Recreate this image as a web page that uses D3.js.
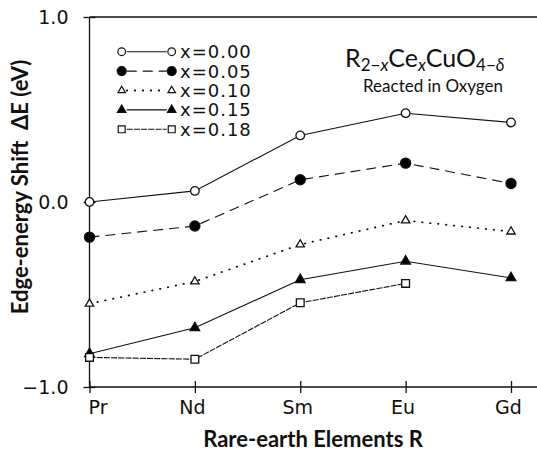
<!DOCTYPE html>
<html>
<head>
<meta charset="utf-8">
<script src="https://cdn.jsdelivr.net/npm/d3@7"></script>
<style>
  html, body { margin: 0; padding: 0; background: #fff; }
  svg { display: block; }
</style>
</head>
<body>
<svg id="chart" width="537" height="451"></svg>
<script>
// Rare-earth elements along the x axis
const elements = ["Pr", "Nd", "Sm", "Eu", "Gd"];
// Ce content of each series
const dopings = ["0.00", "0.05", "0.10", "0.15", "0.18"];
// Edge-energy shift (eV) for each Ce content, ordered as `elements`
const shift000 = [0.00, 0.06, 0.36, 0.48, 0.43];
const shift005 = [-0.19, -0.13, 0.12, 0.21, 0.10];
const shift010 = [-0.55, -0.43, -0.23, -0.10, -0.16];
const shift015 = [-0.82, -0.68, -0.42, -0.32, -0.41];
const shift018 = [-0.84, -0.85, -0.545, -0.44, null];
const yTicks = [-1.0, 0.0, 1.0];
const yTickLabels = ["\u22121.0", "0.0", "1.0"];

const seriesValues = [shift000, shift005, shift010, shift015, shift018];

// drawing style per series
const styles = [
  { symbol: d3.symbolCircle,   size: 58, fill: "#fff", dash: null,      dotted: false },
  { symbol: d3.symbolCircle,   size: 80, fill: "#000", dash: "10,6",    dotted: false },
  { symbol: d3.symbolTriangle, size: 30, fill: "#fff", dash: "0.5,7.5", dotted: true },
  { symbol: d3.symbolTriangle, size: 40, fill: "#000", dash: null,      dotted: false },
  { symbol: d3.symbolSquare,   size: 60, fill: "#fff", dash: "6,1.2",   dotted: false }
];

const svg = d3.select("#chart");
const W = 537;
const plotLeft = 89.5, plotTop = 17, plotBottom = 387;

const x = d3.scalePoint().domain(elements).range([plotLeft, 511]);
const y = d3.scaleLinear().domain([-1, 1]).range([plotBottom, plotTop]);

const ink = "#111";
const numFont = "'DejaVu Sans', sans-serif";
const titleFont = "Lato, 'DejaVu Sans', sans-serif";

// frame: left axis, top edge and bottom axis line
svg.append("line").attr("x1", plotLeft).attr("x2", plotLeft).attr("y1", plotTop).attr("y2", plotBottom)
  .attr("stroke", ink).attr("stroke-width", 1.3);
svg.append("line").attr("x1", plotLeft).attr("x2", W).attr("y1", plotTop).attr("y2", plotTop)
  .attr("stroke", ink).attr("stroke-width", 1.3);
svg.append("line").attr("x1", plotLeft).attr("x2", W).attr("y1", plotBottom).attr("y2", plotBottom)
  .attr("stroke", ink).attr("stroke-width", 1.3);

// y axis: crossing ticks and numeric labels
const yAxis = d3.axisLeft(y).tickValues(yTicks)
  .tickFormat((d, i) => yTickLabels[i]).tickSize(6).tickPadding(10);
const gy = svg.append("g").attr("transform", `translate(${plotLeft},0)`).call(yAxis);
gy.select(".domain").remove();
gy.selectAll(".tick line").attr("x1", -6).attr("x2", 6)
  .attr("stroke", ink).attr("stroke-width", 1.3);
gy.selectAll(".tick text").attr("font-family", numFont).attr("font-size", 19)
  .attr("fill", ink).attr("dx", -5);

// x axis: crossing ticks and element labels
const xAxis = d3.axisBottom(x).tickSize(6).tickPadding(8);
const gx = svg.append("g").attr("transform", `translate(0,${plotBottom})`).call(xAxis);
gx.select(".domain").remove();
gx.selectAll(".tick line").attr("y1", -6).attr("y2", 6)
  .attr("stroke", ink).attr("stroke-width", 1.3);
gx.selectAll(".tick text").attr("font-family", numFont).attr("font-size", 19)
  .attr("fill", ink).attr("dx", (d, i) => i === 0 ? 8 : -3);

// axis titles
svg.append("text")
  .attr("x", 313).attr("y", 447)
  .attr("text-anchor", "middle")
  .attr("font-family", titleFont).attr("font-weight", "bold").attr("font-size", 22)
  .attr("fill", ink)
  .text("Rare-earth Elements R");

svg.append("text")
  .attr("transform", "translate(28,187) rotate(-90)")
  .attr("text-anchor", "middle")
  .attr("font-family", titleFont).attr("font-weight", "bold").attr("font-size", 22)
  .attr("fill", ink)
  .attr("xml:space", "preserve")
  .text("Edge-energy Shift  \u0394E (eV)");

// series lines and markers
const line = d3.line()
  .defined(d => d.v !== null)
  .x(d => x(d.e)).y(d => y(d.v));

seriesValues.forEach((vals, k) => {
  const pts = elements.map((e, i) => ({ e, v: vals[i] }));
  const st = styles[k];
  svg.append("path")
    .datum(pts)
    .attr("d", line)
    .attr("fill", "none")
    .attr("stroke", ink)
    .attr("stroke-width", st.dotted ? 1.8 : 1.1)
    .attr("stroke-linecap", st.dotted ? "round" : "butt")
    .attr("stroke-dasharray", st.dash);
  svg.append("g").selectAll("path")
    .data(pts.filter(d => d.v !== null))
    .join("path")
    .attr("transform", d => `translate(${x(d.e)},${y(d.v)})`)
    .attr("d", d3.symbol().type(st.symbol).size(st.size))
    .attr("fill", st.fill)
    .attr("stroke", ink)
    .attr("stroke-width", 1.3);
});

// legend
const legX1 = 121.7, legX2 = 171.7, legText = 180, legY0 = 51.7, legStep = 19.4;
dopings.forEach((dp, k) => {
  const st = styles[k];
  const ly = legY0 + k * legStep;
  svg.append("line")
    .attr("x1", legX1 + 5).attr("x2", legX2 - 5).attr("y1", ly).attr("y2", ly)
    .attr("stroke", ink)
    .attr("stroke-width", st.dotted ? 1.8 : 1.1)
    .attr("stroke-linecap", st.dotted ? "round" : "butt")
    .attr("stroke-dasharray", st.dash);
  [legX1, legX2].forEach(lx => {
    svg.append("path")
      .attr("transform", `translate(${lx},${ly})`)
      .attr("d", d3.symbol().type(st.symbol).size(st.size * 0.8))
      .attr("fill", st.fill).attr("stroke", ink).attr("stroke-width", 1.2);
  });
  svg.append("text")
    .attr("x", legText).attr("y", ly)
    .attr("dominant-baseline", "central")
    .attr("font-family", numFont).attr("font-size", 18)
    .attr("letter-spacing", 1)
    .attr("fill", ink)
    .text("x=" + dp);
});

// compound formula and preparation note
const formula = svg.append("text")
  .attr("x", 345).attr("y", 67)
  .attr("font-family", titleFont).attr("font-size", 25)
  .attr("fill", ink);
const parts = [
  ["R", false], ["2\u2212", true, false], ["x", true, true],
  ["Ce", false], ["x", true, true],
  ["CuO", false], ["4\u2212", true, false], ["\u03B4", true, true]
];
parts.forEach(([t, sub, ital]) => {
  const ts = formula.append("tspan").text(t);
  if (sub) {
    ts.attr("font-size", 17).attr("baseline-shift", "-4");
    if (ital) ts.attr("font-style", "italic");
  }
});
svg.append("text")
  .attr("x", 433).attr("y", 92)
  .attr("text-anchor", "middle")
  .attr("font-family", titleFont).attr("font-size", 17)
  .attr("fill", ink)
  .text("Reacted in Oxygen");
</script>
</body>
</html>
